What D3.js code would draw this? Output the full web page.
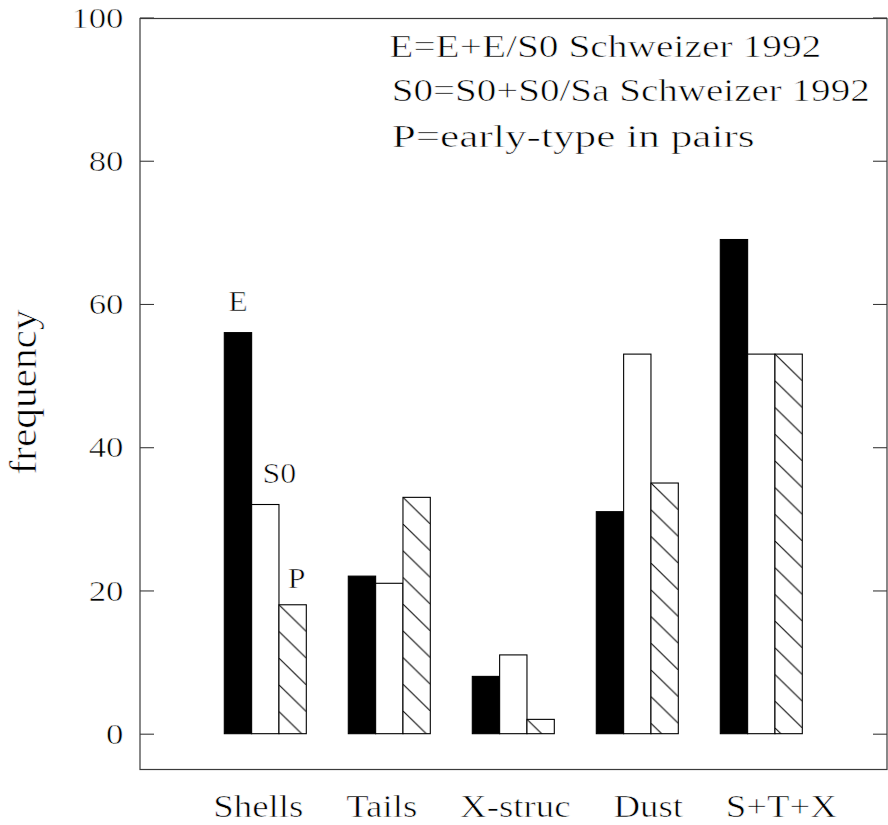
<!DOCTYPE html>
<html><head><meta charset="utf-8">
<script src="https://cdn.jsdelivr.net/npm/d3@7"></script>
<style>
body{margin:0;background:#fff}
</style>
</head><body>
<svg id="chart" width="888" height="825"></svg>
<script>
// ---- data ----
const categories = ["Shells", "Tails", "X-struc", "Dust", "S+T+X"];
const seriesNames = ["E", "S0", "P"];
const valuesE  = [56, 22, 8, 31, 69];
const valuesS0 = [32, 21, 11, 53, 53];
const valuesP  = [18, 33, 2, 35, 53];
const yTicks = [0, 20, 40, 60, 80, 100];
const legendLines = ["E=E+E/S0 Schweizer 1992", "S0=S0+S0/Sa Schweizer 1992", "P=early-type in pairs"];
const yLabel = "frequency";

const seriesValues = [valuesE, valuesS0, valuesP];

// pick an installed Times-like serif
function fontAvailable(name) {
  const c = document.createElement("canvas").getContext("2d");
  const s = "Schweizer 1992 frequency Shells";
  c.font = "40px monospace";
  const a = c.measureText(s).width;
  c.font = `40px "${name}", monospace`;
  return c.measureText(s).width !== a;
}
const serifName = ["Liberation Serif", "Tinos", "Times New Roman", "Nimbus Roman", "DejaVu Serif"]
  .find(fontAvailable) || "serif";
const FONT = `"${serifName}", serif`;

const svg = d3.select("#chart");
svg.append("style").text(`text{font-family:${FONT};fill:#000;stroke:#fff;stroke-width:0.6px;paint-order:normal}`);

// ---- scales ----
const y = d3.scaleLinear().domain([-5, 100]).range([769.5, 17.5]);
const x = d3.scaleBand().domain(categories)
  .range([203.3, 823.3]).paddingInner(42 / 124).paddingOuter(21 / 124);
const xs = d3.scaleBand().domain(seriesNames).range([0, x.bandwidth()]);

const left = 140, right = 887;

function stretch(sel, k) {
  sel.each(function () {
    const w = this.getComputedTextLength();
    d3.select(this).attr("textLength", w * k).attr("lengthAdjust", "spacingAndGlyphs");
  });
}

// ---- frame ----
svg.append("rect")
  .attr("x", left).attr("y", y(100) + 1)
  .attr("width", right - left).attr("height", y(-5) - y(100) - 1)
  .attr("fill", "none").attr("stroke", "#3a3a3a").attr("stroke-width", 1.2);

// ---- axes ----
const axL = svg.append("g").attr("transform", `translate(${left},0)`)
  .call(d3.axisLeft(y).tickValues(yTicks).tickSizeInner(-14).tickSizeOuter(0).tickPadding(16.5));
axL.attr("font-family", FONT);
axL.select(".domain").remove();
axL.selectAll("line").attr("stroke", "#3a3a3a").attr("stroke-width", 1.1);
axL.selectAll("text").attr("font-size", 30).attr("dy", "0.32em")
  .attr("font-family", FONT).attr("fill", "#000");
stretch(axL.selectAll("text"), 1.16);

const axR = svg.append("g").attr("transform", `translate(${right},0)`)
  .call(d3.axisRight(y).tickValues(yTicks).tickSizeInner(-14).tickSizeOuter(0).tickFormat(""));
axR.select(".domain").remove();
axR.selectAll("line").attr("stroke", "#3a3a3a").attr("stroke-width", 1.1);

// ---- hatch patterns (one per P bar, anchored at bar top-left) ----
const defs = svg.append("defs");
const hatchH = 26.7;
categories.forEach((c, i) => {
  const bw = xs.bandwidth();
  const px = x(c) + xs("P");
  const py = y(valuesP[i]);
  const p = defs.append("pattern").attr("id", "hatch" + i)
    .attr("patternUnits", "userSpaceOnUse")
    .attr("x", px).attr("y", py).attr("width", bw).attr("height", hatchH);
  p.append("rect").attr("width", bw).attr("height", hatchH).attr("fill", "#fff");
  p.append("line").attr("x1", -1).attr("y1", -hatchH / bw)
    .attr("x2", bw + 1).attr("y2", hatchH + hatchH / bw)
    .attr("stroke", "#000").attr("stroke-width", 1);
});

// ---- bars ----
const fills = { E: () => "#000", S0: () => "#fff", P: i => `url(#hatch${i})` };
const gBars = svg.append("g");
categories.forEach((c, i) => {
  seriesNames.forEach((s, j) => {
    const v = seriesValues[j][i];
    gBars.append("rect")
      .attr("x", x(c) + xs(s)).attr("y", y(v))
      .attr("width", xs.bandwidth()).attr("height", y(0) - y(v))
      .attr("fill", fills[s](i)).attr("stroke", "#000").attr("stroke-width", 1.1);
  });
});

// ---- series labels above first group ----
const labDx = [0, 14, 4], labDy = [22, 22, 17];
const labs = svg.append("g");
seriesNames.forEach((s, j) => {
  labs.append("text")
    .attr("x", x(categories[0]) + xs(s) + xs.bandwidth() / 2 + labDx[j])
    .attr("y", y(seriesValues[j][0]) - labDy[j])
    .attr("text-anchor", "middle").attr("font-family", FONT).attr("font-size", 29).text(s);
});
stretch(labs.selectAll("text"), 1.1);

// ---- category labels: laid out as one line of text, left to right ----
const catG = svg.append("g");
const catTexts = categories.map(c =>
  catG.append("text").attr("y", 817).attr("font-family", FONT).attr("font-size", 31.5).text(c));
const catK = 1.17;
const catW = catTexts.map(t => t.node().getComputedTextLength() * catK);
const catStart = 213.3, catEnd = 837;
const catGap = (catEnd - catStart - d3.sum(catW)) / (categories.length - 1);
let cx = catStart;
catTexts.forEach((t, i) => {
  t.attr("x", cx).attr("textLength", catW[i]).attr("lengthAdjust", "spacingAndGlyphs");
  cx += catW[i] + catGap;
});

// ---- legend text ----
const legX = [389.3, 391.7, 391.7], legY = [56.7, 101, 146.7], legW = [432, 478, 363];
legendLines.forEach((t, i) => {
  svg.append("text").attr("x", legX[i]).attr("y", legY[i])
    .attr("font-family", FONT).attr("font-size", 32)
    .attr("textLength", legW[i]).attr("lengthAdjust", "spacingAndGlyphs").text(t);
});

// ---- y label ----
svg.append("text").attr("transform", "translate(36,392) rotate(-90)")
  .attr("text-anchor", "middle").attr("font-family", FONT).attr("font-size", 38)
  .attr("textLength", 165).attr("lengthAdjust", "spacingAndGlyphs").text(yLabel);
</script>
</body></html>
